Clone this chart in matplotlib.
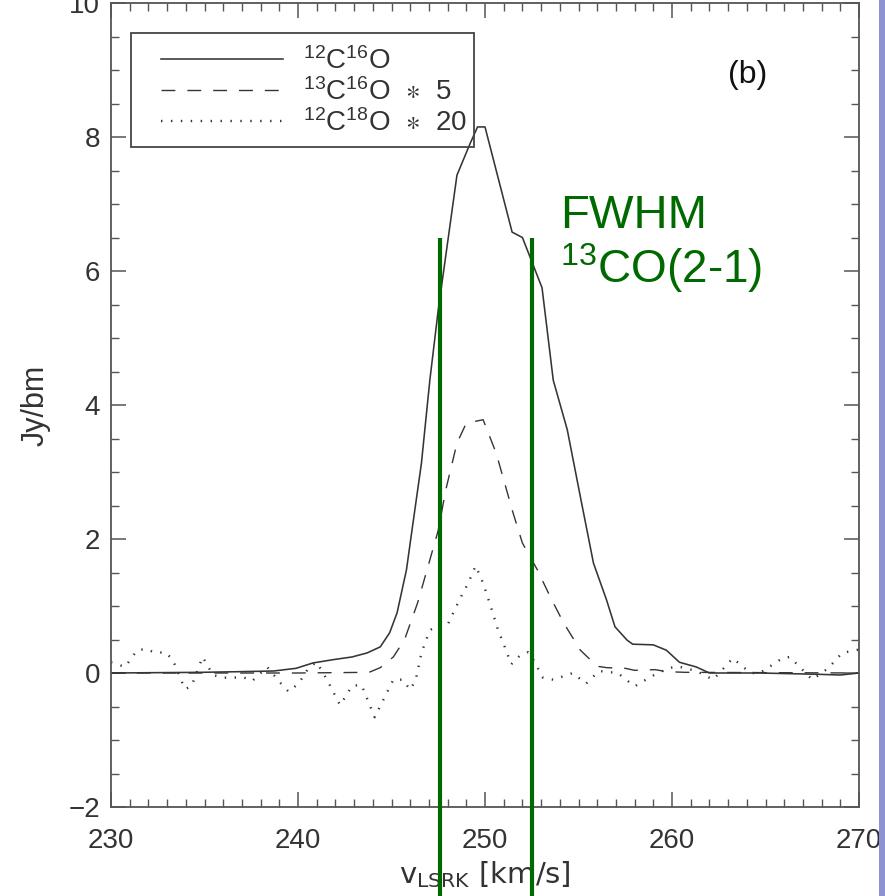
import matplotlib
matplotlib.use("Agg")
import matplotlib.pyplot as plt
from matplotlib.patches import Rectangle
from matplotlib.ticker import MultipleLocator

plt.rcParams['font.family'] = ['Liberation Sans', 'DejaVu Sans']
plt.rcParams['mathtext.fontset'] = 'custom'
plt.rcParams['mathtext.rm'] = 'Liberation Sans'
plt.rcParams['mathtext.it'] = 'Liberation Sans:italic'
plt.rcParams['mathtext.fallback'] = 'stixsans'

# ---- data ----
v12 = [230.0, 234.8, 236.9, 238.7, 239.9, 240.8, 241.9, 242.9, 243.7, 244.4, 244.9, 245.3,
       245.8, 246.15, 246.6, 247.05, 247.5, 248.5, 249.2, 249.6, 250.0, 251.45, 252.0, 253.05,
       253.65, 254.4, 255.1, 255.8, 256.5, 256.95, 257.6, 257.9, 259.0, 259.7, 260.4, 261.3,
       262.0, 264.7, 267.9, 269.0, 270.0]
i12 = [0.0, 0.01, 0.02, 0.03, 0.07, 0.15, 0.2, 0.24, 0.3, 0.39, 0.6, 0.9,
       1.54, 2.24, 3.13, 4.37, 5.42, 7.43, 7.9, 8.15, 8.15, 6.58, 6.5, 5.75,
       4.37, 3.63, 2.63, 1.64, 1.09, 0.69, 0.49, 0.43, 0.42, 0.34, 0.16, 0.09,
       0.0, 0.0, -0.02, -0.03, 0.0]

v13 = [230.0, 235.0, 240.0, 243.8, 244.4, 245.1, 245.7, 246.4, 246.9, 247.5, 247.9, 248.5,
       249.0, 249.9, 250.6, 251.5, 252.0, 252.8, 253.5, 254.2, 255.1, 256.0, 256.5, 257.5,
       258.0, 259.1, 259.7, 260.7, 270.0]
i13 = [0.0, 0.0, 0.0, 0.01, 0.08, 0.24, 0.5, 1.05, 1.54, 2.13, 2.73, 3.43,
       3.73, 3.78, 3.28, 2.39, 1.94, 1.54, 1.13, 0.75, 0.34, 0.1, 0.08, 0.07,
       0.04, 0.05, 0.02, 0.01, 0.0]

v18 = [230.0, 230.75, 231.4, 231.9, 232.35, 232.9, 233.3, 233.95, 234.3, 234.9, 235.45, 236.0,
       236.5, 237.05, 237.55, 238.35, 239.0, 239.5, 240.05, 240.6, 241.0, 241.55, 242.25, 242.9,
       243.4, 244.1, 245.1, 245.6, 246.0, 246.3, 246.6, 247.05, 247.6, 248.0, 248.7, 249.1,
       249.5, 249.9, 250.3, 250.7, 251.1, 251.4, 251.9, 252.3, 252.6, 253.1, 253.65, 254.7,
       255.4, 256.1, 257.1, 258.0, 258.9, 259.8, 260.3, 261.3, 262.2, 263.25, 264.2, 264.7,
       265.9, 266.3, 267.5, 268.35, 269.1, 270.0]
i18 = [0.16, 0.09, 0.34, 0.36, 0.30, 0.31, 0.2, -0.24, -0.2, 0.24, -0.03, -0.07,
       -0.07, -0.06, -0.12, 0.09, -0.13, -0.28, -0.15, 0.09, 0.16, -0.1, -0.48, -0.19,
       -0.18, -0.66, -0.1, -0.1, -0.25, -0.1, 0.3, 0.64, 0.72, 0.72, 1.13, 1.34,
       1.6, 1.34, 1.0, 0.64, 0.36, 0.13, 0.27, 0.31, 0.19, -0.07, -0.1, 0.0,
       -0.16, 0.03, 0.0, -0.2, -0.05, 0.07, 0.1, 0.03, -0.1, 0.22, 0.0, 0.0,
       0.22, 0.24, -0.1, 0.07, 0.3, 0.35]

labels = [r"$^{12}$C$^{16}$O", r"$^{13}$C$^{16}$O  $\ast$  5", r"$^{12}$C$^{18}$O  $\ast$  20"]
fwhm_bounds = [247.6, 252.5]
fwhm_top = 6.5
fwhm_bottom = -3.4

xticks = [230, 240, 250, 260, 270]
yticks = [-2, 0, 2, 4, 6, 8, 10]

# ---- figure ----
fig = plt.figure(figsize=(8.85, 8.96), dpi=100)
ax = fig.add_axes([111/885, 1-807/896, (859-111)/885, (807-3)/896])

lc = '#353535'
ax.plot(v12, i12, color=lc, lw=1.15, label=labels[0])
ax.plot(v13, i13, color=lc, lw=1.0, dashes=(10, 8.6), label=labels[1])
ax.plot(v18, i18, color=lc, lw=1.7, dashes=(0.6, 3.6), label=labels[2])

ax.vlines(fwhm_bounds, fwhm_bottom, fwhm_top, colors='#006a00', lw=3.0, clip_on=False, zorder=5)

ax.set_xlim(230, 270)
ax.set_ylim(-2, 10)
ax.set_xticks(xticks)
ax.set_yticks(yticks)
ax.set_yticklabels([str(t) if t >= 0 else "\u22122" for t in yticks])
ax.xaxis.set_minor_locator(MultipleLocator(1))
ax.yaxis.set_minor_locator(MultipleLocator(0.5))
ax.tick_params(which='both', direction='in', top=True, right=True, color='#555555',
               labelcolor='#333333', labelsize=20)
ax.tick_params(which='major', length=11, width=1.1)
ax.tick_params(which='minor', length=5.5, width=1.0)
ax.tick_params(axis='x', pad=15)
ax.tick_params(axis='y', pad=8)
for s in ax.spines.values():
    s.set_color('#555555')
    s.set_linewidth(1.3)

ax.set_xlabel(r"v$_\mathregular{LSRK}$ [km/s]", fontsize=21, color='#333333', labelpad=4,
              family=['DejaVu Sans'])
ax.set_ylabel("Jy/bm", fontsize=22, color='#333333', labelpad=13)

# legend (frame drawn separately to match the asymmetric padding)
leg = ax.legend(loc='upper left', bbox_to_anchor=((161-111)/748, (807-47)/804), fontsize=20,
                handlelength=4.4, handletextpad=0.72, borderpad=0.0, labelspacing=0.12,
                frameon=False, borderaxespad=0)
for t in leg.get_texts():
    t.set_color('#333333')
ax.add_patch(Rectangle((20/748, 660/804), 343/748, 114/804, transform=ax.transAxes,
                       facecolor='none', edgecolor='#444444', lw=1.3, zorder=6))

ax.text(0.851, 0.911, "(b)", transform=ax.transAxes, fontsize=23, color='#111111',
        ha='center', va='center')

gc = '#006a00'
ax.text(254.0, 6.64, "FWHM", fontsize=34, color=gc, ha='left', va='baseline')
ax.text(254.0, 5.82, r"$^{13}$CO(2-1)", fontsize=33, color=gc, ha='left', va='baseline')

fig.patches.append(Rectangle((879/885, 0), 6/885, 1, transform=fig.transFigure,
                             facecolor='#8d92d2', edgecolor='none'))

fig.savefig("out.png", dpi=100)
